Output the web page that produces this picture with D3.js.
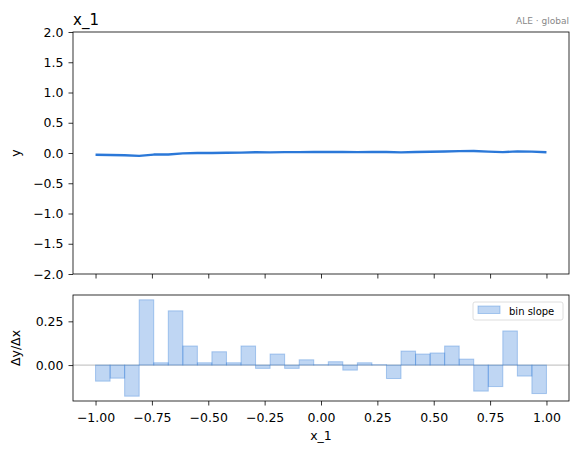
<!DOCTYPE html>
<html>
<head>
<meta charset="utf-8">
<script src="https://cdn.jsdelivr.net/npm/d3@7"></script>
<style>
  html, body { margin: 0; padding: 0; background: #fff; }
  svg { display: block; font-family: "DejaVu Sans", sans-serif; }
</style>
</head>
<body>
<div id="chart"></div>
<script>
// ALE curve for x_1 (values at the 32 bin edges)
const aleEdges = d3.range(32).map(i => -1 + i * 2 / 31);
const aleValues = [
  -0.028, -0.033, -0.038, -0.048, -0.026, -0.025, -0.006, 0.000,
   0.001,  0.005,  0.006,  0.012,  0.011,  0.015,  0.014, 0.016,
   0.016,  0.017,  0.015,  0.016,  0.016,  0.011,  0.016, 0.020,
   0.024,  0.031,  0.033,  0.023,  0.015,  0.027,  0.023, 0.012
];

// bin slopes (Δy/Δx), one per bin
const binSlopes = [
  -0.092, -0.075, -0.178,  0.373,  0.013,  0.310,  0.109,  0.013,
   0.076,  0.013,  0.109, -0.019,  0.063, -0.019,  0.030,  0.002,
   0.019, -0.029,  0.013,  0.002, -0.077,  0.080,  0.063,  0.069,
   0.109,  0.034, -0.149, -0.123,  0.195, -0.063, -0.163
];

const xTicks = [-1, -0.75, -0.5, -0.25, 0, 0.25, 0.5, 0.75, 1];
const yTicksTop = [-2, -1.5, -1, -0.5, 0, 0.5, 1, 1.5, 2];
const yTicksBottom = [0, 0.25];

const width = 578, height = 454;
const left = 73, right = 569;
const top1 = 32, bottom1 = 274;
const top2 = 295, bottom2 = 401;

const lineColor = "#2b78d8";
const minus = s => s.replace("-", "\u2212");

const svg = d3.select("#chart").append("svg")
    .attr("width", width)
    .attr("height", height);

const x = d3.scaleLinear().domain([-1.1, 1.1]).range([left, right]);
const yTop = d3.scaleLinear().domain([-2, 2]).range([bottom1, top1]);

const sMin = d3.min(binSlopes), sMax = d3.max(binSlopes);
const pad = (sMax - sMin) * 0.05;
const yBot = d3.scaleLinear().domain([sMin - pad, sMax + pad]).range([bottom2, top2]);

function styleAxis(g) {
    g.selectAll(".domain").remove();
    g.selectAll(".tick line").attr("stroke", "#000").attr("stroke-width", 0.8);
    g.selectAll(".tick text")
        .attr("fill", "#000")
        .style("font-size", "12.5px")
        .style("font-family", "DejaVu Sans, sans-serif");
}

// ---- top panel ----
svg.append("g")
    .attr("transform", `translate(0,${bottom1})`)
    .call(d3.axisBottom(x).tickValues(xTicks).tickSize(4.5).tickFormat(""))
    .call(styleAxis);

svg.append("g")
    .attr("transform", `translate(${left},0)`)
    .call(d3.axisLeft(yTop).tickValues(yTicksTop).tickSize(4.5).tickPadding(5)
        .tickFormat(d => minus(d3.format(".1f")(d))))
    .call(styleAxis);

const line = d3.line()
    .x((d, i) => x(aleEdges[i]))
    .y(d => yTop(d));

svg.append("path")
    .datum(aleValues)
    .attr("fill", "none")
    .attr("stroke", lineColor)
    .attr("stroke-width", 2.4)
    .attr("stroke-linejoin", "round")
    .attr("d", line);

svg.append("rect")
    .attr("x", left).attr("y", top1)
    .attr("width", right - left).attr("height", bottom1 - top1)
    .attr("fill", "none").attr("stroke", "#000").attr("stroke-width", 0.8);

svg.append("text")
    .attr("x", left)
    .attr("y", top1 - 7)
    .style("font-size", "15px")
    .text("x_1");

svg.append("text")
    .attr("x", right)
    .attr("y", top1 - 8)
    .attr("text-anchor", "end")
    .attr("fill", "#888")
    .style("font-size", "9px")
    .text("ALE \u00b7 global");

svg.append("text")
    .attr("transform", `translate(20,${(top1 + bottom1) / 2}) rotate(-90)`)
    .attr("text-anchor", "middle")
    .style("font-size", "12.5px")
    .text("y");

// ---- bottom panel ----
svg.append("line")
    .attr("x1", left).attr("x2", right)
    .attr("y1", yBot(0)).attr("y2", yBot(0))
    .attr("stroke", "#c8c8c8").attr("stroke-width", 1.2);

svg.selectAll(".bar")
    .data(binSlopes)
    .enter()
    .append("rect")
    .attr("class", "bar")
    .attr("x", (d, i) => x(aleEdges[i]))
    .attr("width", (d, i) => x(aleEdges[i + 1]) - x(aleEdges[i]))
    .attr("y", d => yBot(Math.max(0, d)))
    .attr("height", d => Math.abs(yBot(d) - yBot(0)))
    .attr("fill", "rgba(43,120,216,0.3)")
    .attr("stroke", "rgba(43,120,216,0.35)")
    .attr("stroke-width", 1);

svg.append("g")
    .attr("transform", `translate(0,${bottom2})`)
    .call(d3.axisBottom(x).tickValues(xTicks).tickSize(4.5).tickPadding(7.5)
        .tickFormat(d => minus(d3.format(".2f")(d))))
    .call(styleAxis);

svg.append("g")
    .attr("transform", `translate(${left},0)`)
    .call(d3.axisLeft(yBot).tickValues(yTicksBottom).tickSize(4.5).tickPadding(5)
        .tickFormat(d => minus(d3.format(".2f")(d))))
    .call(styleAxis);

svg.append("rect")
    .attr("x", left).attr("y", top2)
    .attr("width", right - left).attr("height", bottom2 - top2)
    .attr("fill", "none").attr("stroke", "#000").attr("stroke-width", 0.8);

svg.append("text")
    .attr("transform", `translate(20,${(top2 + bottom2) / 2}) rotate(-90)`)
    .attr("text-anchor", "middle")
    .style("font-size", "12.5px")
    .text("\u0394y/\u0394x");

svg.append("text")
    .attr("x", (left + right) / 2)
    .attr("y", 440)
    .attr("text-anchor", "middle")
    .style("font-size", "12.5px")
    .text("x_1");

// legend
const legend = svg.append("g").attr("transform", `translate(473,302)`);
legend.append("rect")
    .attr("width", 90).attr("height", 18).attr("rx", 2)
    .attr("fill", "rgba(255,255,255,0.8)")
    .attr("stroke", "#d6d6d6").attr("stroke-width", 0.8);
legend.append("rect")
    .attr("x", 5).attr("y", 4).attr("width", 22).attr("height", 7.5)
    .attr("fill", "rgba(43,120,216,0.3)")
    .attr("stroke", "rgba(43,120,216,0.35)");
legend.append("text")
    .attr("x", 36).attr("y", 12.5)
    .style("font-size", "10px")
    .text("bin slope");
</script>
</body>
</html>
